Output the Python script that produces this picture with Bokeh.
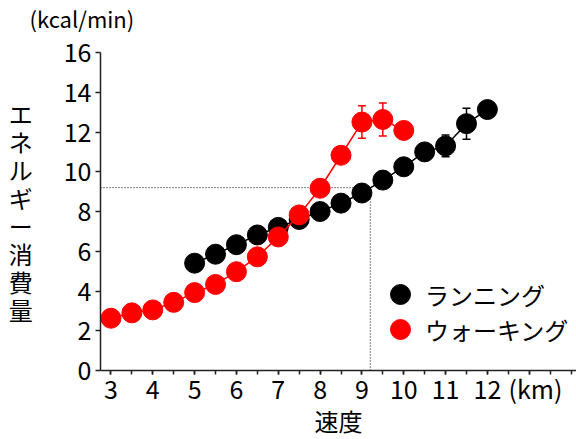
from bokeh.plotting import figure
from bokeh.models import (ColumnDataSource, Range1d, FixedTicker, Whisker, TeeHead,
                          Legend, LegendItem)
from bokeh.embed import file_html
from bokeh.resources import INLINE

FONT = "Noto Sans CJK JP"

# ---- data ----
running_speed = [5.0, 5.5, 6.0, 6.5, 7.0, 7.5, 8.0, 8.5, 9.0, 9.5, 10.0, 10.5, 11.0, 11.5, 12.0]
running_kcal = [5.4, 5.85, 6.33, 6.82, 7.2, 7.6, 8.0, 8.42, 8.93, 9.58, 10.25, 11.0, 11.3, 12.42, 13.13]
running_err = [0, 0, 0, 0, 0, 0, 0, 0, 0, 0, 0, 0, 0.55, 0.78, 0]

walking_speed = [3.0, 3.5, 4.0, 4.5, 5.0, 5.5, 6.0, 6.5, 7.0, 7.5, 8.0, 8.5, 9.0, 9.5, 10.0]
walking_kcal = [2.63, 2.9, 3.05, 3.43, 3.92, 4.33, 4.97, 5.72, 6.72, 7.83, 9.17, 10.83, 12.5, 12.63, 12.08]
walking_err = [0, 0, 0, 0, 0, 0, 0, 0, 0, 0, 0, 0, 0.82, 0.83, 0]

cross_speed = 9.2
cross_kcal = 9.2

series_names = ["ランニング", "ウォーキング"]
x_ticks = [3, 4, 5, 6, 7, 8, 9, 10, 11, 12, 13]
x_tick_labels = ["3", "4", "5", "6", "7", "8", "9", "10", "11", "12", "\u2002(km)"]
x_minor = [3 + 0.5 * i for i in range(23)]
y_ticks = [0, 2, 4, 6, 8, 10, 12, 14, 16]
y_title = "エネルギー消費量"
x_title = "速度"
unit_title = "(kcal/min)"

X_START, X_END = 2.75, 14.13

p = figure(width=576, height=439, output_backend="svg", toolbar_location=None,
           x_range=Range1d(X_START, X_END), y_range=Range1d(0, 16),
           min_border_left=100, min_border_right=0, min_border_top=51, min_border_bottom=69)
p.outline_line_color = None
p.grid.visible = False

# unit text above the y axis (second empty line only reserves room so the text sits higher)
p.title.text = unit_title + "\n"
p.title.align = "left"
p.title.vertical_align = "top"
p.title.offset = -71
p.title.standoff = 2
p.title.text_line_height = 0.5
p.title.text_font = FONT
p.title.text_font_size = "22px"
p.title.text_font_style = "normal"
p.title.text_color = "black"

for ax in (p.xaxis, p.yaxis):
    ax.axis_line_width = 1.5
    ax.axis_line_color = "#222222"
    ax.major_tick_line_width = 1.5
    ax.major_tick_line_color = "#222222"
    ax.minor_tick_line_width = 1.5
    ax.minor_tick_line_color = "#222222"
    ax.major_tick_in = 0
    ax.minor_tick_in = 0
    ax.major_label_text_font = FONT
    ax.major_label_text_font_size = "25px"
    ax.major_label_text_color = "black"
    ax.axis_label_text_font_size = "24px"
    ax.axis_label_text_font_style = "normal"
    ax.axis_label_text_color = "black"

p.xaxis.ticker = FixedTicker(ticks=x_ticks, minor_ticks=x_minor)
p.xaxis.major_label_overrides = {t: l for t, l in zip(x_ticks, x_tick_labels)}
p.xaxis.major_tick_out = 4
p.xaxis.minor_tick_out = 4
p.xaxis.major_label_standoff = -5
p.xaxis.axis_label = x_title
p.xaxis.axis_label_text_font = "Lato, 'Noto Sans CJK JP'"
p.xaxis.axis_label_standoff = -2

p.yaxis.ticker = FixedTicker(ticks=y_ticks, minor_ticks=[])
p.yaxis.major_tick_out = 5
p.yaxis.minor_tick_out = 0
p.yaxis.major_label_standoff = 4
p.yaxis.axis_label = "\n".join(y_title)
p.yaxis.axis_label_orientation = "horizontal"
p.yaxis.axis_label_text_font = FONT
p.yaxis.axis_label_text_line_height = 0.8
p.yaxis.axis_label_standoff = 28

# dotted crossover guides
p.segment(x0=[X_START, cross_speed], y0=[cross_kcal, 0],
          x1=[cross_speed, cross_speed], y1=[cross_kcal, cross_kcal],
          line_color="black", line_width=1, line_dash="1 2")

run_src = ColumnDataSource(dict(x=running_speed, y=running_kcal,
                                lo=[v - e for v, e in zip(running_kcal, running_err)],
                                hi=[v + e for v, e in zip(running_kcal, running_err)]))
walk_src = ColumnDataSource(dict(x=walking_speed, y=walking_kcal,
                                 lo=[v - e for v, e in zip(walking_kcal, walking_err)],
                                 hi=[v + e for v, e in zip(walking_kcal, walking_err)]))

for src, col in ((run_src, "black"), (walk_src, "red")):
    w = Whisker(source=src, base="x", lower="lo", upper="hi", level="underlay",
                line_color=col, line_width=1.5,
                upper_head=TeeHead(size=8, line_color=col, line_width=1.5),
                lower_head=TeeHead(size=8, line_color=col, line_width=1.5))
    p.add_layout(w)

p.line("x", "y", source=run_src, line_color="black", line_width=1.5)
r_run = p.scatter("x", "y", source=run_src, size=20, fill_color="black", line_color="black")
p.line("x", "y", source=walk_src, line_color="red", line_width=1.5)
r_walk = p.scatter("x", "y", source=walk_src, size=20, fill_color="red", line_color="red")

for name, rend, loc in ((series_names[0], r_run, (275, 51)), (series_names[1], r_walk, (275, 16))):
    lg = Legend(items=[LegendItem(label=name, renderers=[rend])],
                location=loc, glyph_width=50, glyph_height=50,
                padding=0, margin=0, label_standoff=0,
                border_line_color=None, background_fill_alpha=0,
                label_text_font=FONT, label_text_font_size="24px", label_text_color="black")
    p.add_layout(lg)

open("out.html", "w").write(file_html(p, INLINE))
